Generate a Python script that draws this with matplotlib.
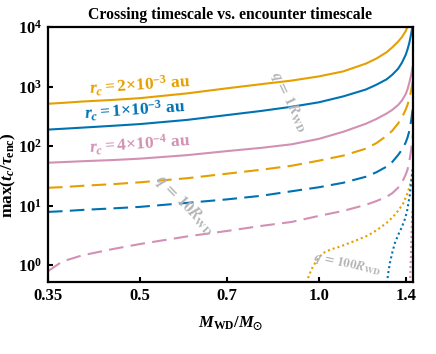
import matplotlib
matplotlib.use("Agg")
import matplotlib.pyplot as plt
import numpy as np

#%% ─── Data ──────────────────────────────────────────────────────────────────

M_GRID = [0.35, 0.37, 0.40, 0.45, 0.50, 0.60, 0.70, 0.80, 0.90, 1.00, 1.10,
          1.20, 1.25, 1.30, 1.33, 1.36, 1.38, 1.40, 1.41, 1.42, 1.43, 1.44]

# q = 1 R_WD (solid)
solid_2e3 = [513, 531, 560, 596, 638, 767, 933, 1096, 1259, 1479, 1799,
             2427, 2951, 3758, 4571, 5689, 6761, 8511, 10000, 12023, 15000, 20000]
solid_1e3 = [189, 195, 204, 219, 234, 275, 331, 389, 457, 543, 684,
             891, 1072, 1318, 1585, 1995, 2512, 3388, 4169, 5370, 7586, 11220]
solid_4e4 = [52.5, 53.7, 55.6, 58.2, 61.4, 70.3, 82.2, 93.3, 107, 132, 174,
             237, 285, 351, 407, 490, 582, 741, 891, 1148, 1549, 2239]

# q = 10 R_WD (dashed)
dash_2e3 = [19.9, 20.4, 21.5, 22.9, 24.6, 28.8, 34.3, 40.0, 46.7, 56.8, 69.2,
            90.4, 112, 148, 182, 240, 302, 407, 490, 617, 851, 1259]
dash_1e3 = [7.83, 8.04, 8.45, 8.97, 9.51, 11.1, 12.7, 14.6, 17.4, 20.3, 24.2,
            30.5, 36.3, 45.0, 54.3, 70.8, 86.9, 114, 138, 178, 263, 447]
dash_4e4 = [0.79, 1.15, 1.46, 1.86, 2.26, 3.03, 3.74, 4.55, 5.31, 6.70, 8.15,
            10.3, 11.9, 14.0, 16.2, 20.0, 24.2, 33.0, 39.8, 54.6, 85.1, 158]

# q = 100 R_WD (dotted)
M_dot_2e3 = [0.955, 0.96, 0.966, 0.978, 0.995, 1.016, 1.05, 1.085, 1.16, 1.21,
             1.253, 1.30, 1.333, 1.36, 1.386, 1.413, 1.43, 1.44]
dot_2e3   = [0.50, 0.62, 0.73, 0.96, 1.25, 1.59, 1.85, 2.04, 2.64, 3.15,
             3.89, 5.1, 6.46, 8.2, 10.7, 17.0, 26.0, 40.0]
M_dot_1e3 = [1.302, 1.31, 1.317, 1.33, 1.343, 1.36, 1.38, 1.395, 1.407, 1.423, 1.435, 1.44]
dot_1e3   = [0.50, 0.78, 1.08, 1.65, 2.35, 3.2, 4.37, 5.8, 7.83, 15.1, 33.0, 45.0]
M_dot_4e4 = [1.424, 1.428, 1.432, 1.436]
dot_4e4   = [0.50, 1.2, 3.0, 8.0]

X_TICKS  = [0.35, 0.5, 0.7, 1.0, 1.4]
X_LABELS = ["0.35", "0.5", "0.7", "1.0", "1.4"]

ORANGE = "#E69F00"
BLUE   = "#0072B2"
PINK   = "#D291B4"
GRAY   = "#b4b4b4"

#%% ─── Style ──────────────────────────────────────────────────────────────────

plt.rcParams['font.family'] = ['Liberation Serif', 'DejaVu Serif']
plt.rcParams['font.weight'] = 'bold'
plt.rcParams['mathtext.fontset'] = 'custom'
plt.rcParams['mathtext.rm'] = 'Liberation Serif:bold'
plt.rcParams['mathtext.it'] = 'Liberation Serif:italic:bold'
plt.rcParams['mathtext.bf'] = 'Liberation Serif:bold'
plt.rcParams['mathtext.fallback'] = 'stix'

#%% ─── Figure ─────────────────────────────────────────────────────────────────

fig = plt.figure(figsize=(4.36, 3.54), dpi=100)
ax = fig.add_axes([0.110, 0.2034, 0.837, 0.7203])

lw = 1.5
dash = (7, 3.5)
dots = (1.0, 1.4)

for vals, c in [(solid_2e3, ORANGE), (solid_1e3, BLUE), (solid_4e4, PINK)]:
    ax.plot(M_GRID, vals, color=c, lw=lw, solid_capstyle='butt')
for vals, c in [(dash_2e3, ORANGE), (dash_1e3, BLUE), (dash_4e4, PINK)]:
    ax.plot(M_GRID, vals, color=c, lw=lw, dashes=dash)
for m, vals, c in [(M_dot_2e3, dot_2e3, ORANGE), (M_dot_1e3, dot_1e3, BLUE),
                   (M_dot_4e4, dot_4e4, PINK)]:
    ax.plot(m, vals, color=c, lw=lw, dashes=dots)

ax.set_xscale('log')
ax.set_yscale('log')
ax.set_xlim(0.35, 1.44)
ax.set_ylim(0.52, 1.0e4)

ax.set_xticks(X_TICKS)
ax.set_xticklabels(X_LABELS)
ax.xaxis.set_minor_locator(matplotlib.ticker.NullLocator())
ax.yaxis.set_minor_locator(matplotlib.ticker.NullLocator())
ax.set_yticks([1, 10, 100, 1000, 10000])

ax.tick_params(direction='in', length=3.5, width=1.5, labelsize=12, pad=4)
for s in ax.spines.values():
    s.set_linewidth(1.6)

ax.set_xlabel(r'$M_{\rm WD}/M_{\odot}$', fontsize=12, labelpad=8)
ax.set_ylabel(r'$\mathrm{max}(t_c/\tau_{\rm enc})$', fontsize=12.5)
ax.yaxis.set_label_coords(-0.082, 0.42)
ax.set_title('Crossing timescale vs. encounter timescale', fontsize=11.3,
             fontweight='bold', pad=6)

# curve labels
ax.text(0.50, 1045, r'$r_c = 2{\times}10^{-3}$ au', color=ORANGE, fontsize=12.5,
        ha='center', va='center', rotation=4)
ax.text(0.49, 395, r'$r_c = 1{\times}10^{-3}$ au', color=BLUE, fontsize=12.5,
        ha='center', va='center', rotation=4)
ax.text(0.50, 106, r'$r_c = 4{\times}10^{-4}$ au', color=PINK, fontsize=12.5,
        ha='center', va='center', rotation=4)

# periapsis labels
ax.text(0.891, 561, r'$q\,=\,1R_{\rm WD}$', color=GRAY, fontsize=11,
        ha='center', va='center', rotation=-64, math_fontfamily='stix')
ax.text(0.595, 10.3, r'$q\,=\,10R_{\rm WD}$', color=GRAY, fontsize=11.5,
        ha='center', va='center', rotation=-46, math_fontfamily='stix')
ax.text(1.115, 1.04, r'$q\,=\,100R_{\rm WD}$', color=GRAY, fontsize=9.3,
        ha='center', va='center', rotation=-12, math_fontfamily='stix')

fig.savefig('out.png', dpi=100)
